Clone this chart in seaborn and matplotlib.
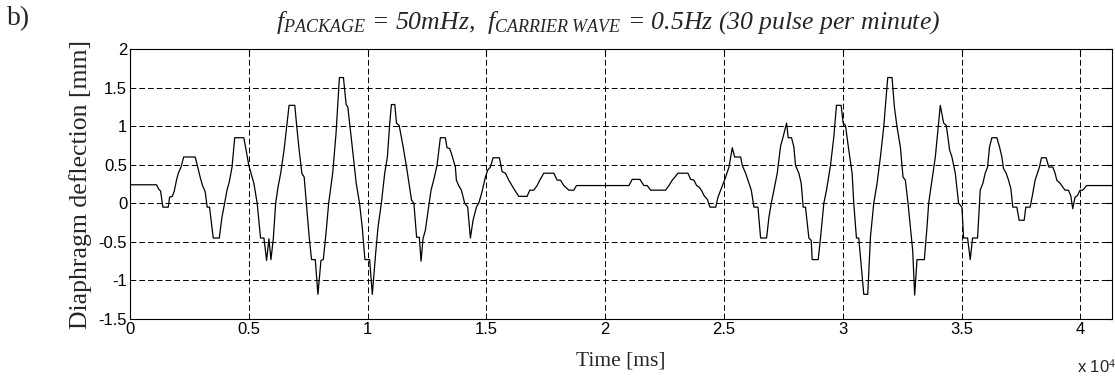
import numpy as np
import pandas as pd
import matplotlib
matplotlib.use("Agg")
import matplotlib.pyplot as plt
import seaborn as sns

# diaphragm deflection vs time
time_ms = [0, 1116, 1215, 1285, 1384, 1610, 1667, 1780, 1864, 1963, 2034, 2147,
           2260, 2740, 2811, 2952, 3051, 3164, 3249, 3347, 3503, 3757, 3870, 3983,
           4082, 4181, 4294, 4407, 4788, 4887, 5000, 5212, 5353, 5494, 5636, 5749,
           5847, 5932, 6031, 6130, 6229, 6342, 6483, 6695, 6935, 7020, 7119, 7232,
           7330, 7542, 7641, 7797, 7909, 8037, 8136, 8249, 8361, 8531, 8672, 8813,
           8983, 9096, 9166, 9308, 9520, 9661, 9774, 9887, 10085, 10198, 10339,
           10438, 10579, 10720, 10833, 10932, 11003, 11144, 11215, 11328, 11497,
           11638, 11850, 11949, 12062, 12175, 12250, 12331, 12430, 12570, 12669,
           12781, 12921, 13062, 13272, 13343, 13455, 13553, 13694, 13736, 13834,
           13947, 14087, 14213, 14326, 14438, 14579, 14677, 14817, 14958, 15056,
           15169, 15281, 15548, 15660, 15801, 15941, 16152, 16362, 16713, 16826,
           16994, 17135, 17247, 17416, 17837, 17978, 18118, 18258, 18469, 18680,
           18792, 20997, 21138, 21461, 21629, 21770, 21910, 22542, 22683, 22823,
           22935, 23062, 23483, 23596, 23736, 23848, 23950, 24048, 24160, 24300,
           24412, 24650, 24748, 24860, 25000, 25070, 25210, 25350, 25448, 25700,
           25770, 25910, 26050, 26148, 26261, 26429, 26541, 26793, 26891, 26989,
           27101, 27241, 27381, 27479, 27633, 27703, 27843, 27941, 28011, 28151,
           28249, 28333, 28431, 28572, 28670, 28712, 28964, 29062, 29202, 29314,
           29482, 29622, 29734, 29930, 30014, 30112, 30252, 30392, 30462, 30574,
           30672, 30883, 31051, 31163, 31303, 31443, 31583, 31723, 31891, 32073,
           32171, 32283, 32423, 32535, 32633, 32745, 32843, 32941, 33025, 33123,
           33432, 33544, 33614, 33754, 33894, 33964, 34104, 34244, 34356, 34496,
           34594, 34734, 34874, 35014, 35084, 35252, 35364, 35462, 35672, 35784,
           35896, 35994, 36092, 36176, 36275, 36485, 36597, 36695, 36765, 36877,
           36975, 37073, 37157, 37325, 37423, 37633, 37703, 37885, 37997, 38095,
           38193, 38277, 38361, 38558, 38670, 38838, 38936, 39006, 39146, 39258,
           39356, 39496, 39594, 39678, 39776, 39874, 39986, 40098, 40266, 41330]

deflection_mm = [0.24, 0.24, 0.18, 0.16, -0.05, -0.05, 0.08, 0.09, 0.16, 0.31, 0.39, 0.47,
                 0.60, 0.60, 0.52, 0.34, 0.23, 0.15, -0.05, -0.05, -0.45, -0.45, -0.18, 0.0,
                 0.17, 0.28, 0.47, 0.85, 0.85, 0.69, 0.49, 0.26, 0.0, -0.45, -0.45, -0.74,
                 -0.46, -0.73, -0.46, 0.0, 0.21, 0.39, 0.69, 1.27, 1.27, 0.99, 0.69, 0.39,
                 0.34, -0.44, -0.73, -0.73, -1.18, -0.74, -0.73, -0.39, 0.0, 0.39, 0.91, 1.63,
                 1.63, 1.28, 1.25, 0.86, 0.26, 0.0, -0.31, -0.73, -0.73, -1.18, -0.65,
                 -0.31, 0.0, 0.39, 0.60, 1.04, 1.28, 1.28, 1.04, 1.01, 0.73,
                 0.47, 0.04, 0.0, -0.44, -0.44, -0.75, -0.46, -0.35, -0.05, 0.17,
                 0.30, 0.49, 0.85, 0.85, 0.72, 0.71, 0.62, 0.47, 0.30, 0.23,
                 0.17, 0.0, -0.05, -0.45, -0.22, -0.05, 0.0, 0.15, 0.34, 0.43,
                 0.47, 0.59, 0.59, 0.41, 0.39, 0.30, 0.19, 0.09, 0.09, 0.17,
                 0.17, 0.23, 0.30, 0.39, 0.39, 0.30, 0.30, 0.23, 0.17, 0.17,
                 0.23, 0.23, 0.31, 0.31, 0.23, 0.23, 0.17, 0.17, 0.23, 0.30,
                 0.34, 0.39, 0.39, 0.31, 0.30, 0.23, 0.21, 0.17, 0.10, 0.05,
                 -0.05, -0.05, 0.08, 0.17, 0.28, 0.34, 0.47, 0.72, 0.60, 0.60,
                 0.49, 0.39, 0.26, 0.17, -0.05, -0.05, -0.45, -0.45, -0.18, 0.0,
                 0.17, 0.39, 0.74, 0.85, 1.04, 0.85, 0.85, 0.73, 0.49, 0.39,
                 0.26, -0.05, -0.05, -0.45, -0.48, -0.73, -0.73, -0.45, 0.0, 0.17,
                 0.49, 0.86, 1.27, 1.27, 1.04, 1.01, 0.69, 0.39, 0.0, -0.45,
                 -0.45, -1.18, -1.18, -0.44, 0.0, 0.26, 0.60, 0.99, 1.63, 1.63,
                 1.25, 0.99, 0.73, 0.34, 0.30, 0.0, -0.31, -0.61, -1.19, -0.73,
                 -0.73, -0.31, 0.0, 0.30, 0.60, 0.82, 1.27, 1.04, 1.01, 0.69,
                 0.60, 0.39, 0.0, -0.05, -0.45, -0.45, -0.73, -0.45, -0.45, 0.17,
                 0.26, 0.39, 0.47, 0.73, 0.85, 0.85, 0.73, 0.60, 0.45, 0.39,
                 0.30, 0.19, -0.05, -0.05, -0.22, -0.22, -0.05, -0.05, 0.13, 0.30,
                 0.39, 0.47, 0.59, 0.59, 0.47, 0.47, 0.39, 0.30, 0.26, 0.21,
                 0.17, 0.17, 0.10, -0.07, 0.08, 0.10, 0.17, 0.17, 0.23, 0.23]

x_ticks = [0, 5000, 10000, 15000, 20000, 25000, 30000, 35000, 40000]
x_tick_labels = ["0", "0.5", "1", "1.5", "2", "2.5", "3", "3.5", "4"]
y_ticks = [-1.5, -1, -0.5, 0, 0.5, 1, 1.5, 2]
y_tick_labels = ["-1.5", "-1", "-0.5", "0", "0.5", "1", "1.5", "2"]

sns.set_style("white")
plt.rcParams['font.family'] = ['Liberation Sans', 'DejaVu Sans']
plt.rcParams['mathtext.fontset'] = 'custom'
plt.rcParams['mathtext.rm'] = 'Liberation Serif'
plt.rcParams['mathtext.it'] = 'Liberation Serif:italic'

df = pd.DataFrame({'time': time_ms, 'deflection': deflection_mm})

fig = plt.figure(figsize=(11.15, 3.79), dpi=100)
ax = fig.add_axes([0.1166, 0.1583, 0.8807, 0.7124])
sns.lineplot(data=df, x='time', y='deflection', ax=ax, color='k',
             linewidth=0.9, estimator=None, sort=False)

ax.set_xlim(0, 41330)
ax.set_ylim(-1.5, 2)
ax.set_xticks(x_ticks)
ax.set_xticklabels(x_tick_labels)
ax.set_yticks(y_ticks)
ax.set_yticklabels(y_tick_labels)
ax.grid(True, color='k', linestyle=(0, (6, 3)), linewidth=0.7)
ax.tick_params(direction='in', top=True, right=True, length=4,
               labelsize=12, colors='k', pad=2)
for s in ax.spines.values():
    s.set_color('k')
    s.set_linewidth(0.8)

serif = 'Liberation Serif'
ax.set_xlabel('Time [ms]', family=serif, fontsize=15.5)
ax.xaxis.set_label_coords(0.5, -0.12)
ax.set_ylabel('Diaphragm deflection [mm]', family=serif, fontsize=18.5)
ax.yaxis.set_label_coords(-0.039, 0.5)

fig.text(0.966, 0.01, r'x 10$^{4}$', fontsize=12, ha='left', va='bottom')
fig.text(0.006, 0.95, 'b)', family=serif, fontsize=20, va='center')
fig.text(0.545, 0.94,
         r'$f_{PACKAGE}$ = 50mHz,  $f_{CARRIER\ WAVE}$ = 0.5Hz (30 pulse per minute)',
         family=serif, style='italic', fontsize=18.5, ha='center', va='center')

fig.savefig('out.png', dpi=100)
